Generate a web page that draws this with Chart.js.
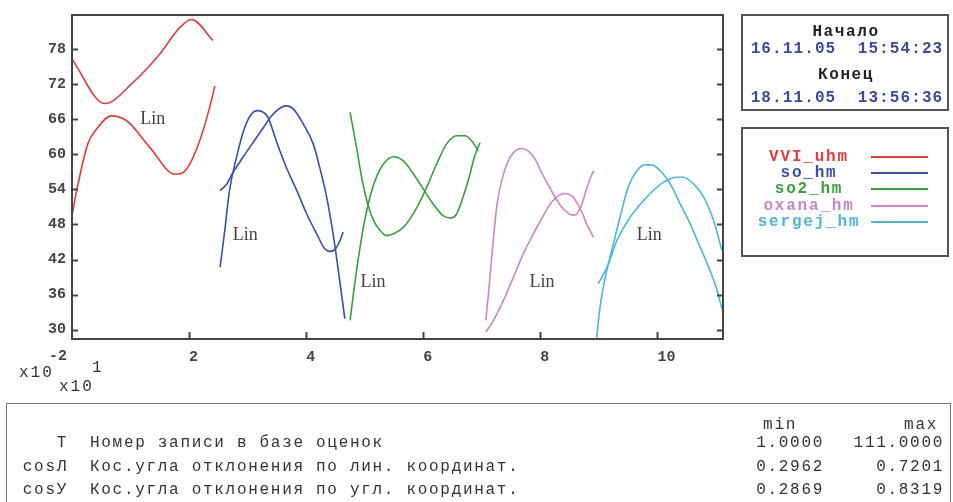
<!DOCTYPE html>
<html>
<head>
<meta charset="utf-8">
<script src="https://cdn.jsdelivr.net/npm/chart.js@4.4.1/dist/chart.umd.min.js"></script>
<style>
  body { margin: 0; background: #fff; }
  #wrap { position: relative; width: 953px; height: 502px; overflow: hidden; }
  #chartBox { position: absolute; left: 0; top: 0; width: 953px; height: 502px; }
  .mono { font-family: "Liberation Mono", "DejaVu Sans Mono", monospace; }
  .box { position: absolute; border: 2px solid #555; box-sizing: border-box; }
  .t { position: absolute; white-space: pre; line-height: 20px; }
  .hd { left: 742px; width: 208px; text-align: center; font-size: 16px; letter-spacing: 1.6px; font-weight: bold; color: #222; }
  .dt { left: 743px; width: 208px; text-align: center; font-size: 16px; letter-spacing: 1.1px; font-weight: bold; color: #3c4a9c; }
  .tb { font-size: 16px; letter-spacing: 1.7px; color: #333; }
  .ax { font-size: 16px; letter-spacing: 2px; color: #333; }
</style>
</head>
<body>
<div id="wrap">
  <div id="chartBox"><canvas id="myChart"></canvas></div>

  <div class="box" style="left:741px;top:14px;width:208px;height:97px"></div>
  <div class="t mono hd" style="top:22px">Начало</div>
  <div class="t mono dt" id="start" style="top:39px"></div>
  <div class="t mono hd" style="top:65px">Конец</div>
  <div class="t mono dt" id="end" style="top:88px"></div>

  <div class="box" style="left:741px;top:127px;width:208px;height:130px"></div>
  <div id="legend"></div>

  <div class="t mono ax" style="left:19px;top:363px">x10</div>
  <div class="t mono ax" style="left:92px;top:358px">1</div>
  <div class="t mono ax" style="left:59px;top:377px">x10</div>

  <div class="box" style="left:6px;top:403px;width:945px;height:110px;border-width:1px;border-color:#777"></div>
  <div id="table"></div>
</div>

<script>
// tick labels
const xTicks = [0, 2, 4, 6, 8, 10];
const xTickLabels = ['-2', '2', '4', '6', '8', '10'];
const yTicks = [30, 36, 42, 48, 54, 60, 66, 72, 78];

// VVI_uhm
const vviX1 = [0.0, 0.56, 1.04, 1.50, 1.84, 2.04, 2.41];
const vviY1 = [76.3, 68.7, 72.3, 77.2, 81.7, 83.1, 79.5];
const vviX2 = [0.0, 0.08, 0.27, 0.44, 0.67, 0.93, 1.33, 1.76, 1.96, 2.18, 2.35, 2.44];
const vviY2 = [49.5, 53.8, 61.8, 64.6, 66.6, 65.8, 61.2, 56.6, 57.5, 62.3, 68.0, 71.7];

// so_hm
const soX1 = [2.53, 2.61, 2.69, 2.81, 2.95, 3.09, 3.18, 3.27, 3.35, 3.49, 3.66, 3.84, 4.01, 4.18, 4.32, 4.41, 4.49, 4.58, 4.63];
const soY1 = [40.7, 47.0, 53.8, 59.5, 64.6, 67.2, 67.5, 67.2, 66.3, 62.3, 57.8, 53.8, 49.8, 46.4, 43.8, 43.4, 43.7, 45.3, 46.7];
const soX2 = [2.53, 2.64, 2.75, 2.92, 3.09, 3.27, 3.41, 3.55, 3.66, 3.78, 3.95, 4.12, 4.23, 4.35, 4.46, 4.55, 4.61, 4.66];
const soY2 = [53.8, 54.9, 56.9, 59.5, 62.0, 64.6, 66.6, 67.9, 68.3, 67.8, 65.2, 61.8, 57.8, 52.7, 46.4, 40.1, 35.6, 31.9];

// so2_hm
const so2X1 = [4.75, 4.86, 4.97, 5.06, 5.15, 5.26, 5.37, 5.49, 5.66, 5.89, 6.06, 6.23, 6.40, 6.57, 6.71, 6.83, 6.94];
const so2Y1 = [67.2, 61.2, 54.9, 51.2, 48.7, 47.0, 46.1, 46.4, 47.5, 50.9, 54.4, 58.4, 61.8, 63.2, 63.2, 62.3, 60.6];
const so2X2 = [4.75, 4.83, 4.92, 5.00, 5.09, 5.20, 5.34, 5.49, 5.66, 5.83, 6.00, 6.17, 6.34, 6.46, 6.57, 6.68, 6.80, 6.88, 6.97];
const so2Y2 = [31.6, 37.9, 44.1, 48.7, 52.7, 56.1, 58.6, 59.6, 58.9, 56.7, 54.1, 51.5, 49.5, 49.1, 49.8, 52.7, 56.7, 59.8, 62.0];

// oxana_hm
const oxX1 = [7.07, 7.13, 7.20, 7.26, 7.34, 7.43, 7.54, 7.68, 7.79, 7.91, 8.02, 8.14, 8.25, 8.37, 8.48, 8.56, 8.63, 8.71, 8.79, 8.86, 8.91];
const oxY1 = [31.6, 37.9, 45.8, 51.5, 55.5, 58.4, 60.3, 61.0, 60.6, 59.2, 56.9, 54.7, 52.7, 50.9, 49.9, 49.6, 49.9, 51.5, 54.1, 56.1, 57.2];
const oxX2 = [7.07, 7.20, 7.37, 7.54, 7.71, 7.88, 8.05, 8.19, 8.31, 8.42, 8.54, 8.62, 8.71, 8.79, 8.91];
const oxY2 = [29.6, 31.6, 35.0, 39.0, 43.0, 46.4, 49.5, 51.8, 52.9, 53.3, 52.9, 51.8, 50.1, 48.1, 45.8];

// sergej_hm
const seX1 = [8.96, 9.02, 9.11, 9.22, 9.36, 9.50, 9.65, 9.79, 9.90, 10.05, 10.22, 10.39, 10.56, 10.73, 10.90, 11.02, 11.10];
const seY1 = [28.5, 33.9, 39.0, 43.6, 49.2, 54.4, 57.2, 58.2, 58.2, 57.2, 54.9, 51.5, 48.1, 44.1, 40.1, 36.7, 33.6];
const seX2 = [8.99, 9.14, 9.31, 9.53, 9.82, 10.10, 10.33, 10.44, 10.62, 10.79, 10.96, 11.10];
const seY2 = [37.9, 40.7, 45.3, 49.2, 52.7, 55.2, 56.1, 56.1, 54.9, 52.7, 48.7, 43.6];

const seriesNames = ['VVI_uhm', 'so_hm', 'so2_hm', 'oxana_hm', 'sergej_hm'];
const seriesColors = ['#e23c3c', '#3a4fa6', '#3a9e3e', '#cc86c8', '#4fb6d6'];

// "Lin" labels (data coords)
const linX = [1.38, 2.96, 5.14, 8.03, 9.86];
const linY = [66.0, 46.1, 38.1, 38.1, 46.1];

// header and table text
const startText = '16.11.05  15:54:23';
const endText = '18.11.05  13:56:36';
const tableCodes = ['T', 'cosЛ', 'cosУ'];
const tableNames = ['Номер записи в базе оценок', 'Кос.угла отклонения по лин. координат.', 'Кос.угла отклонения по угл. координат.'];
const tableMin = ['1.0000', '0.2962', '0.2869'];
const tableMax = ['111.0000', '0.7201', '0.8319'];

document.getElementById('start').textContent = startText;
document.getElementById('end').textContent = endText;

// legend
let lg = '';
seriesNames.forEach(function (n, i) {
  const c = 157 + i * 16.2;
  lg += '<div class="t mono" style="left:742px;width:134px;top:' + (c - 10) + 'px;text-align:center;font-size:16px;letter-spacing:1.8px;font-weight:bold;color:' + seriesColors[i] + '">' + n + '</div>';
  lg += '<div style="position:absolute;left:871px;width:57px;top:' + (c - 1) + 'px;height:2px;background:' + seriesColors[i] + '"></div>';
});
document.getElementById('legend').innerHTML = lg;

// table
let tb = '<div class="t mono tb" style="right:' + (953 - 797) + 'px;top:415px">min</div>';
tb += '<div class="t mono tb" style="right:' + (953 - 938) + 'px;top:415px">max</div>';
tableCodes.forEach(function (c, i) {
  const y = 433 + i * 23.5;
  tb += '<div class="t mono tb" style="right:' + (953 - 68) + 'px;top:' + y + 'px">' + c + '</div>';
  tb += '<div class="t mono tb" style="left:90px;top:' + y + 'px">' + tableNames[i] + '</div>';
  tb += '<div class="t mono tb" style="right:' + (953 - 824) + 'px;top:' + y + 'px">' + tableMin[i] + '</div>';
  tb += '<div class="t mono tb" style="right:' + (953 - 944) + 'px;top:' + y + 'px">' + tableMax[i] + '</div>';
});
document.getElementById('table').innerHTML = tb;

function pts(xs, ys) {
  return xs.map(function (x, i) { return { x: x, y: ys[i] }; });
}

const curves = [
  [vviX1, vviY1, 0], [vviX2, vviY2, 0],
  [soX1, soY1, 1], [soX2, soY2, 1],
  [so2X1, so2Y1, 2], [so2X2, so2Y2, 2],
  [oxX1, oxY1, 3], [oxX2, oxY2, 3],
  [seX1, seY1, 4], [seX2, seY2, 4]
];

const data = {
  datasets: curves.map(function (c) {
    return {
      label: seriesNames[c[2]],
      data: pts(c[0], c[1]),
      showLine: true,
      borderColor: seriesColors[c[2]],
      backgroundColor: seriesColors[c[2]],
      borderWidth: 1.6,
      pointRadius: 0,
      cubicInterpolationMode: 'monotone'
    };
  })
};

// frame, inward ticks, first x label and "Lin" text
const framePlugin = {
  id: 'frame',
  afterDraw(chart) {
    const c = chart.ctx, a = chart.chartArea;
    const xs = chart.scales.x, ys = chart.scales.y;
    c.save();
    c.strokeStyle = '#444';
    c.lineWidth = 2;
    c.strokeRect(a.left, a.top, a.right - a.left, a.bottom - a.top);
    c.beginPath();
    yTicks.forEach(function (v) {
      const y = Math.round(ys.getPixelForValue(v)) + 0.5;
      c.moveTo(a.left, y); c.lineTo(a.left + 6, y);
      c.moveTo(a.right, y); c.lineTo(a.right - 6, y);
    });
    xTicks.forEach(function (v) {
      if (v === 0) return;
      const x = Math.round(xs.getPixelForValue(v)) + 0.5;
      c.moveTo(x, a.bottom); c.lineTo(x, a.bottom - 7);
    });
    c.stroke();
    c.fillStyle = '#444';
    c.font = 'bold 15px "Liberation Mono", monospace';
    c.textAlign = 'center';
    c.textBaseline = 'top';
    c.fillText(xTickLabels[0], xs.getPixelForValue(0) - 14, a.bottom + 10);
    c.font = '18px "Liberation Serif", serif';
    c.textBaseline = 'middle';
    linX.forEach(function (x, i) {
      c.fillText('Lin', xs.getPixelForValue(x), ys.getPixelForValue(linY[i]));
    });
    c.restore();
  }
};

const config = {
  type: 'scatter',
  data,
  options: {
    responsive: true,
    maintainAspectRatio: false,
    animation: false,
    layout: { padding: { left: 0, right: 230, top: 14, bottom: 0 } },
    plugins: { legend: { display: false }, tooltip: { enabled: false } },
    scales: {
      x: {
        type: 'linear',
        min: 0,
        max: 11.12,
        afterBuildTicks(s) { s.ticks = xTicks.map(function (v) { return { value: v }; }); },
        afterFit(s) { s.height = 163; },
        grid: { display: false, drawTicks: false },
        border: { display: false },
        ticks: {
          padding: 9,
          align: 'start',
          color: '#444',
          font: { family: '"Liberation Mono", monospace', size: 15, weight: 'bold' },
          callback(v) { return v === 0 ? '' : xTickLabels[xTicks.indexOf(v)]; }
        }
      },
      y: {
        type: 'linear',
        min: 28.4,
        max: 83.86,
        afterBuildTicks(s) { s.ticks = yTicks.map(function (v) { return { value: v }; }); },
        afterFit(s) { s.width = 72; },
        grid: { display: false, drawTicks: false },
        border: { display: false },
        ticks: {
          padding: 6,
          color: '#444',
          font: { family: '"Liberation Mono", monospace', size: 15, weight: 'bold' }
        }
      }
    }
  },
  plugins: [framePlugin]
};

const myChart = new Chart(document.getElementById('myChart'), config);
</script>
</body>
</html>
